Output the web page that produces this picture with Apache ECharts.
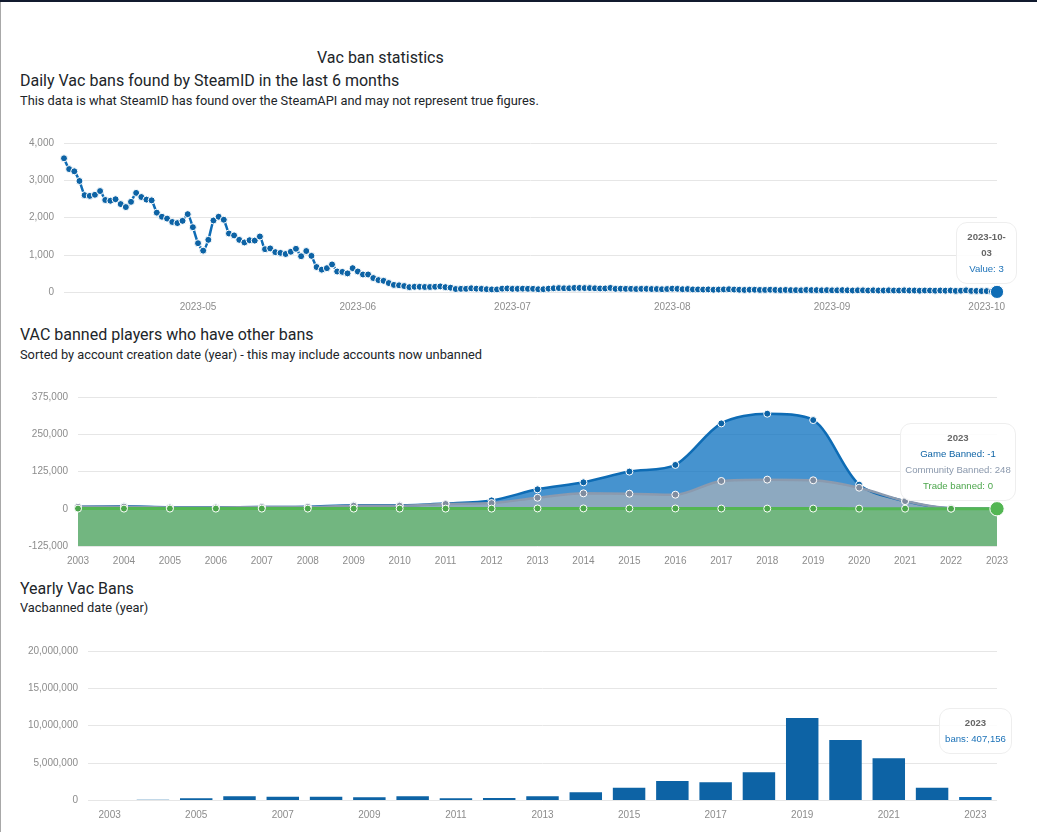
<!DOCTYPE html>
<html>
<head>
<meta charset="utf-8">
<title>Vac ban statistics</title>
<script src="https://cdn.jsdelivr.net/npm/echarts@6/dist/echarts.min.js"></script>
<style>
  html, body { margin: 0; padding: 0; background: #fff; }
  body { width: 1037px; height: 832px; overflow: hidden; position: relative; font-family: Roboto, sans-serif; color: #212529; }
  #topbar { position: absolute; left: 0; top: 0; width: 1037px; height: 2px; background: #111a2e; }
  #leftbar { position: absolute; left: 0; top: 2px; width: 1px; height: 830px; background: #a8a8a8; }
  .txt { position: absolute; white-space: nowrap; line-height: 20px; }
  .main { font-size: 16px; }
  .sub { font-size: 12.8px; }
  .chart { position: absolute; left: 0; width: 1037px; }
</style>
</head>
<body>
<div id="topbar"></div>
<div id="leftbar"></div>
<div class="txt main" style="left:317px;top:48px">Vac ban statistics</div>
<div class="txt main" style="left:20px;top:71px">Daily Vac bans found by SteamID in the last 6 months</div>
<div class="txt sub" style="left:20px;top:91px">This data is what SteamID has found over the SteamAPI and may not represent true figures.</div>
<div id="daily" class="chart" style="top:120px;height:200px"></div>
<div class="txt main" style="left:20px;top:325px">VAC banned players who have other bans</div>
<div class="txt sub" style="left:20px;top:345px">Sorted by account creation date (year) - this may include accounts now unbanned</div>
<div id="others" class="chart" style="top:375px;height:200px"></div>
<div class="txt main" style="left:20px;top:579px">Yearly Vac Bans</div>
<div class="txt sub" style="left:20px;top:598px">Vacbanned date (year)</div>
<div id="yearly" class="chart" style="top:630px;height:202px"></div>

<script>
const firstDay = '2023-04-05'
const dailyBans = [
  3590,3300,3240,2980,2600,2580,2610,2710,2470,2450,
  2490,2360,2280,2420,2660,2550,2480,2460,2130,2020,
  1970,1880,1850,1910,2090,1740,1310,1110,1400,1920,
  2020,1940,1570,1520,1400,1330,1390,1380,1490,1150,
  1170,1070,1050,1020,1080,1160,960,1100,970,670,
  600,640,740,550,540,500,640,550,470,470,
  375,320,300,240,190,180,160,130,140,140,
  135,135,140,150,130,115,80,85,85,100,
  90,85,75,70,70,90,95,85,85,90,
  85,85,75,75,90,100,105,100,100,110,
  110,105,105,100,95,95,110,85,90,85,
  85,80,85,85,80,80,75,80,90,85,
  75,80,70,70,65,70,60,65,70,75,
  65,60,55,60,60,55,55,60,55,50,
  55,50,50,45,55,50,50,45,50,45,
  45,50,45,40,45,45,40,45,40,40,
  45,40,40,45,40,40,35,40,40,35,
  40,35,40,30,35,45,30,30,25,25,
  15,3
]

const years = ['2003','2004','2005','2006','2007','2008','2009','2010','2011','2012','2013','2014','2015','2016','2017','2018','2019','2020','2021','2022','2023']
const gameBanned = [7000,8000,5000,5000,6000,7000,12000,12000,18000,28000,65100,88700,124700,147100,286400,319000,297600,80900,25500,1400,-1]
const communityBanned = [6500,7000,4500,4500,5500,6000,10000,10000,16000,19000,37000,51700,50500,47200,93200,97700,95500,70700,25800,1500,248]
const tradeBanned = [500,500,500,500,500,500,500,500,500,500,1000,1100,800,900,700,500,600,400,300,100,0]
const yearlyBans = [0,20000,225000,490000,450000,450000,360000,490000,225000,270000,490000,1030000,1660000,2560000,2380000,3730000,11000000,8040000,5600000,1660000,407156]

const blue = '#0d63a5'
const gray = '#7f8c9f'
const green = '#4ca64c'
const axisText = { color: '#8c8c8c', fontSize: 10, fontFamily: 'Liberation Sans', margin: 10 }
const gridLine = { lineStyle: { color: '#e6e6e6', width: 1 } }

const dayNames = dailyBans.map((v, i) => {
  let d = new Date(firstDay + 'T00:00:00Z')
  d.setUTCDate(d.getUTCDate() + i)
  return d.toISOString().slice(0, 10)
})

// tooltip stays open on the last point, like the page after hovering it
function tip(pos, width, padX, title, rows) {
  return {
    trigger: 'axis',
    alwaysShowContent: true,
    transitionDuration: 0,
    axisPointer: { type: 'none' },
    position: pos,
    padding: [6, padX],
    borderWidth: 1,
    borderColor: '#eeeeee',
    backgroundColor: 'rgba(255,255,255,0.88)',
    extraCssText: 'box-shadow:none;border-radius:11px;box-sizing:border-box;white-space:normal;text-align:center;width:' + width + 'px;',
    formatter: () => '<div style="font:9.6px/16px \'Liberation Sans\'">' +
      '<div style="font-weight:bold;color:#666">' + title + '</div>' +
      rows.map(r => '<div style="white-space:nowrap;color:' + r[1] + '">' + r[0] + '</div>').join('') + '</div>'
  }
}

function lastBig(values, size) {
  return values.map((v, i) => i === values.length - 1 ? { value: v, symbolSize: size } : v)
}

function lineSeries(name, values, color, area, smooth, lastSize) {
  let s = {
    name: name,
    type: 'line',
    data: lastSize ? lastBig(values, lastSize) : values,
    smooth: smooth,
    symbol: 'circle',
    symbolSize: 7,
    showSymbol: true,
    showAllSymbol: true,
    animation: false,
    lineStyle: { color: color, width: color === green ? 3 : 2.5 },
    itemStyle: { color: color, borderColor: '#fff', borderWidth: 1 }
  }
  if (area) s.areaStyle = { color: area, opacity: 1, origin: 'start' }
  return s
}

const dailyChart = echarts.init(document.getElementById('daily'))
dailyChart.setOption({
  animation: false,
  grid: { left: 64, right: 40, top: 23, height: 149 },
  tooltip: tip([956, 102], 61, 10, '2023-10-03', [['Value: 3', '#1c72b8']]),
  xAxis: {
    type: 'category', data: dayNames, boundaryGap: false,
    axisLine: { show: false }, axisTick: { show: false },
    axisLabel: Object.assign({}, axisText, {
      interval: (i, name) => name.slice(8) === '01',
      formatter: name => name.slice(0, 7)
    })
  },
  yAxis: {
    type: 'value', min: 0, max: 4000, interval: 1000,
    axisLine: { show: false }, axisTick: { show: false },
    axisLabel: axisText, splitLine: gridLine
  },
  series: [lineSeries('Value', dailyBans, blue, null, 0.2, 12)]
})
dailyChart.dispatchAction({ type: 'showTip', seriesIndex: 0, dataIndex: dailyBans.length - 1 })

const othersChart = echarts.init(document.getElementById('others'))
othersChart.setOption({
  animation: false,
  grid: { left: 78, right: 40, top: 22, height: 149 },
  tooltip: tip([900, 48], 116, 3, '2023', [['Game Banned: -1', blue], ['Community Banned: 248', '#8b99ad'], ['Trade banned: 0', green]]),
  xAxis: {
    type: 'category', data: years, boundaryGap: false,
    axisLine: { show: false, onZero: false }, axisTick: { show: false },
    axisLabel: Object.assign({}, axisText, { interval: 0 })
  },
  yAxis: {
    type: 'value', min: -125000, max: 375000, interval: 125000,
    axisLine: { show: false }, axisTick: { show: false },
    axisLabel: axisText, splitLine: gridLine
  },
  series: [
    lineSeries('Game Banned', gameBanned, blue, 'rgba(13,105,175,0.77)', 0.3),
    lineSeries('Community Banned', communityBanned, gray, 'rgba(150,160,170,0.75)', 0.3),
    lineSeries('Trade banned', tradeBanned, green, 'rgba(95,170,95,0.72)', 0.3, 13)
  ]
})
othersChart.dispatchAction({ type: 'showTip', seriesIndex: 2, dataIndex: years.length - 1 })

const yearlyChart = echarts.init(document.getElementById('yearly'))
yearlyChart.setOption({
  animation: false,
  grid: { left: 88, right: 40, top: 21, height: 149 },
  tooltip: tip([939, 78], 73, 2, '2023', [['bans: 407,156', '#1c72b8']]),
  xAxis: {
    type: 'category', data: years,
    axisLine: { show: false }, axisTick: { show: false },
    axisLabel: Object.assign({}, axisText, { interval: 1 })
  },
  yAxis: {
    type: 'value', min: 0, max: 20000000, interval: 5000000,
    axisLine: { show: false }, axisTick: { show: false },
    axisLabel: axisText, splitLine: gridLine
  },
  series: [{
    name: 'bans', type: 'bar', data: yearlyBans, barWidth: '75%',
    animation: false, itemStyle: { color: blue }
  }]
})
yearlyChart.dispatchAction({ type: 'showTip', seriesIndex: 0, dataIndex: years.length - 1 })
</script>
</body>
</html>
